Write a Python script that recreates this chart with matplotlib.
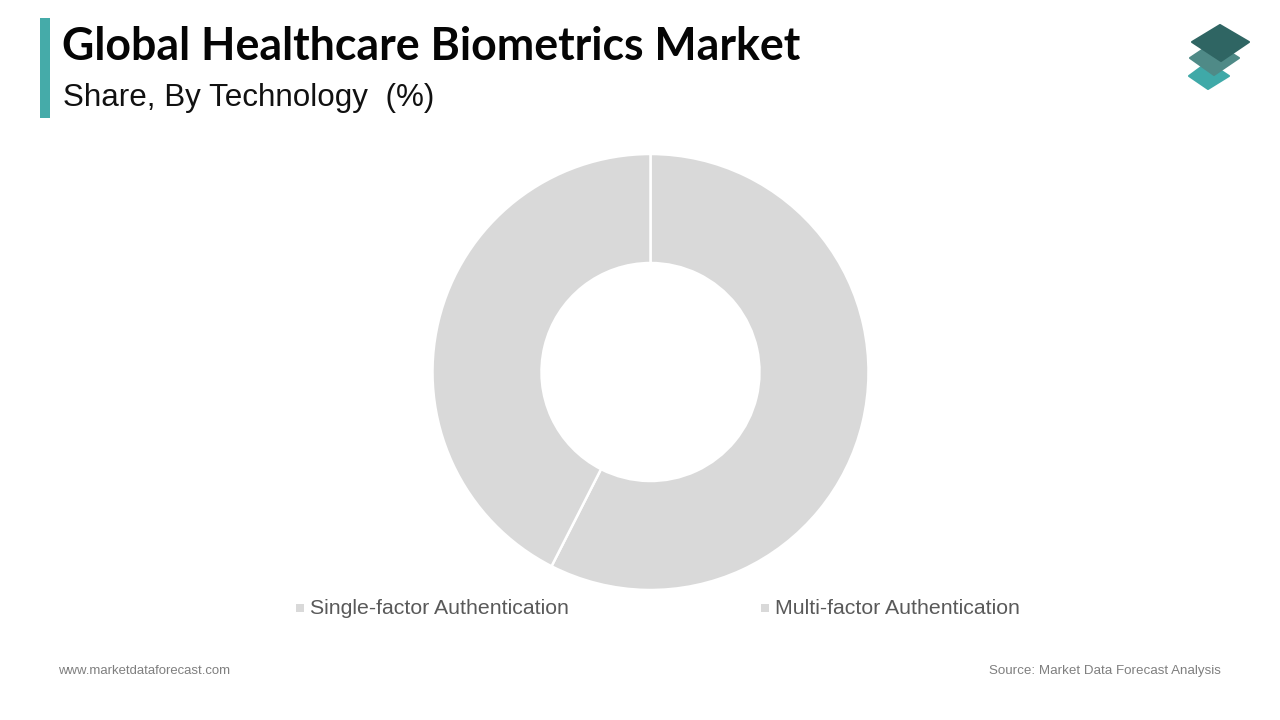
import matplotlib.pyplot as plt
from matplotlib.patches import Polygon, Rectangle

W, H = 1280, 720

categories = ['Single-factor Authentication', 'Multi-factor Authentication']
shares = [57.5, 42.5]
title = 'Global Healthcare Biometrics Market'
subtitle = 'Share, By Technology  (%)'

fig = plt.figure(figsize=(W / 100, H / 100), dpi=100, facecolor='white')

# fundo em coordenadas de pixel, para título, legenda e logo
bg = fig.add_axes([0, 0, 1, 1])
bg.set_xlim(0, W)
bg.set_ylim(H, 0)
bg.axis('off')

bg.add_patch(Rectangle((40, 18), 10, 100, color='#45ABA9', lw=0))
bg.text(61.5, 47, title, fontsize=32.15, fontweight='bold', family='Lato',
        color='#050505', va='center', ha='left')
bg.text(63, 98, subtitle, fontsize=22.6, family='Liberation Sans',
        color='#111111', va='center', ha='left')

# logo
bg.add_patch(Polygon([(1189, 76), (1208, 62), (1229, 76), (1208, 89)], closed=True,
                     fc='#3FA9A8', ec='#3FA9A8', lw=1.5, joinstyle='round'))
bg.add_patch(Polygon([(1190, 58), (1214, 42), (1239, 58), (1214, 75)], closed=True,
                     fc='#4F8A87', ec='#4F8A87', lw=1.5, joinstyle='round'))
bg.add_patch(Polygon([(1192, 42), (1220, 25), (1249, 42), (1221, 61)], closed=True,
                     fc='#2F6563', ec='#2F6563', lw=1.5, joinstyle='round'))

# rosca
cx, cy, r = 650.5, 372, 218
ax = fig.add_axes([(cx - r) / W, 1 - (cy + r) / H, 2 * r / W, 2 * r / H])
ax.pie(shares, colors=['#D9D9D9', '#D9D9D9'], startangle=90, counterclock=False,
       radius=1, wedgeprops=dict(width=0.5, edgecolor='white', linewidth=1.8))
ax.set_xlim(-1, 1)
ax.set_ylim(-1, 1)
ax.set_aspect('equal')

# legenda
for label, xbox, xtext in zip(categories, [296, 761], [310, 775]):
    bg.add_patch(Rectangle((xbox, 604), 8, 8, color='#D9D9D9', lw=0))
    bg.text(xtext, 609, label, fontsize=15.35, family='Liberation Sans', color='#595959',
            va='center', ha='left')

bg.text(58.5, 671, 'www.marketdataforecast.com', fontsize=9.45, family='Liberation Sans',
        color='#7F7F7F', va='center', ha='left')
bg.text(1221, 671, 'Source: Market Data Forecast Analysis', fontsize=9.6,
        family='Liberation Sans', color='#7F7F7F', va='center', ha='right')

fig.savefig('out.png', dpi=100)
